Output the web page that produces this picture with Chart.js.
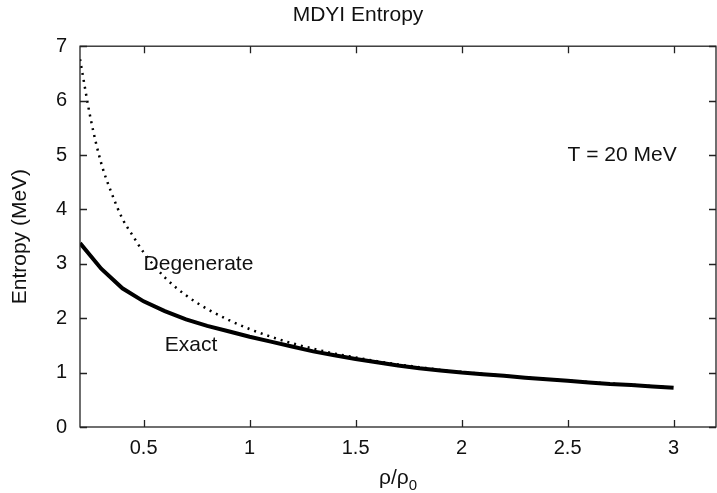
<!DOCTYPE html>
<html>
<head>
<meta charset="utf-8">
<script src="https://cdn.jsdelivr.net/npm/chart.js@4/dist/chart.umd.min.js"></script>
<style>
	html, body { margin: 0; padding: 0; background: #fff; }
	canvas { display: block; }
</style>
</head>
<body>
<canvas id="entropy" width="717" height="493"></canvas>
<script>
// density rho/rho0 and entropy (MeV)
const rhoExact = [0.2, 0.3, 0.4, 0.5, 0.6, 0.7, 0.8, 0.9, 1.0, 1.1, 1.2, 1.3, 1.4, 1.5, 1.6, 1.7, 1.8, 1.9, 2.0,
	2.1, 2.2, 2.3, 2.4, 2.5, 2.6, 2.7, 2.8, 2.9, 3.0]
const entropyExact = [3.38, 2.91, 2.55, 2.31, 2.13, 1.98, 1.86, 1.76, 1.66, 1.57, 1.48, 1.39, 1.32, 1.25, 1.19, 1.13, 1.08, 1.04, 1.0,
	0.97, 0.94, 0.905, 0.877, 0.85, 0.82, 0.79, 0.77, 0.745, 0.72]

const rhoDegenerate = [0.2, 0.25, 0.3, 0.35, 0.4, 0.45, 0.5, 0.6, 0.7, 0.8, 0.9, 1.0, 1.1, 1.2, 1.3, 1.4, 1.5, 1.6, 1.7, 1.8, 1.9, 2.0,
	2.2, 2.4, 2.6, 2.8, 3.0]
const entropyDegenerate = [6.76, 5.67, 4.85, 4.29, 3.83, 3.51, 3.21, 2.75, 2.42, 2.17, 1.97, 1.80, 1.66, 1.54, 1.44, 1.35, 1.28, 1.21, 1.15, 1.10, 1.05, 1.01,
	0.945, 0.88, 0.825, 0.775, 0.725]

const xTicks = [0.5, 1, 1.5, 2, 2.5, 3]
const yTicks = [0, 1, 2, 3, 4, 5, 6, 7]

const labels = [
	{ text: 'T = 20 MeV', x: 2.5, y: 5.0 },
	{ text: 'Degenerate', x: 0.5, y: 3.0 },
	{ text: 'Exact', x: 0.6, y: 1.5 },
]

const FONT = "'Liberation Sans', Arial, sans-serif"
const INK = '#111'

const toPoints = (xs, ys) => xs.map((x, i) => ({ x, y: ys[i] }))

// gnuplot style frame: full box with ticks pointing inward on all four sides
const framePlugin = {
	id: 'frame',
	afterDatasetsDraw(chart) {
		const { ctx, chartArea: a, scales } = chart
		const tick = 7
		ctx.save()
		ctx.strokeStyle = '#222'
		ctx.lineWidth = 1.3
		ctx.strokeRect(a.left, a.top, a.right - a.left, a.bottom - a.top)
		ctx.beginPath()
		xTicks.forEach((v) => {
			const px = Math.round(scales.x.getPixelForValue(v)) + 0.5
			ctx.moveTo(px, a.bottom); ctx.lineTo(px, a.bottom - tick)
			ctx.moveTo(px, a.top); ctx.lineTo(px, a.top + tick)
		})
		yTicks.forEach((v) => {
			const py = Math.round(scales.y.getPixelForValue(v)) + 0.5
			ctx.moveTo(a.left, py); ctx.lineTo(a.left + tick, py)
			ctx.moveTo(a.right, py); ctx.lineTo(a.right - tick, py)
		})
		ctx.stroke()

		ctx.fillStyle = INK
		ctx.font = '21px ' + FONT
		ctx.textAlign = 'left'
		ctx.textBaseline = 'middle'
		labels.forEach((l) => {
			ctx.fillText(l.text, scales.x.getPixelForValue(l.x), scales.y.getPixelForValue(l.y))
		})

		// x axis title with subscript
		const cx = (a.left + a.right) / 2
		const base = 484
		ctx.textBaseline = 'alphabetic'
		const main = 'ρ/ρ'
		ctx.font = '21px ' + FONT
		const w1 = ctx.measureText(main).width
		ctx.font = '15px ' + FONT
		const w2 = ctx.measureText('0').width
		const start = cx - (w1 + w2) / 2
		ctx.font = '21px ' + FONT
		ctx.fillText(main, start, base)
		ctx.font = '15px ' + FONT
		ctx.fillText('0', start + w1, base + 6)
		ctx.restore()
	},
}

new Chart(document.getElementById('entropy'), {
	type: 'line',
	data: {
		datasets: [
			{
				label: 'Exact',
				data: toPoints(rhoExact, entropyExact),
				borderColor: '#000',
				borderWidth: 4,
				pointRadius: 0,
				fill: false,
			},
			{
				label: 'Degenerate',
				data: toPoints(rhoDegenerate, entropyDegenerate),
				borderColor: '#000',
				borderWidth: 2.5,
				borderDash: [2, 5],
				borderCapStyle: 'butt',
				cubicInterpolationMode: 'monotone',
				pointRadius: 0,
				fill: false,
			},
		],
	},
	options: {
		responsive: false,
		animation: false,
		devicePixelRatio: 1,
		layout: { padding: { left: 0, right: 1, top: 0, bottom: 0 } },
		plugins: {
			legend: { display: false },
			tooltip: { enabled: false },
			title: {
				display: true,
				text: 'MDYI Entropy',
				color: INK,
				font: { family: FONT, size: 21, weight: 'normal' },
				padding: { top: 3, bottom: 18 },
			},
		},
		scales: {
			x: {
				type: 'linear',
				min: 0.2,
				max: 3.2,
				grid: { display: false, drawTicks: false },
				border: { display: false },
				afterBuildTicks: (scale) => { scale.ticks = xTicks.map((value) => ({ value })) },
				afterFit: (scale) => { scale.height = 66 },
				ticks: {
					color: INK,
					padding: 9,
					maxRotation: 0,
					font: { family: FONT, size: 20 },
					callback: (v) => String(v),
				},
			},
			y: {
				type: 'linear',
				min: 0,
				max: 7,
				grid: { display: false, drawTicks: false },
				border: { display: false },
				afterBuildTicks: (scale) => { scale.ticks = yTicks.map((value) => ({ value })) },
				afterFit: (scale) => { scale.width = 80 },
				ticks: {
					color: INK,
					padding: 13,
					font: { family: FONT, size: 20 },
					callback: (v) => String(v),
				},
				title: {
					display: true,
					text: 'Entropy (MeV)',
					color: INK,
					font: { family: FONT, size: 21 },
					padding: { top: 8, bottom: 0 },
				},
			},
		},
	},
	plugins: [framePlugin],
})
</script>
</body>
</html>
